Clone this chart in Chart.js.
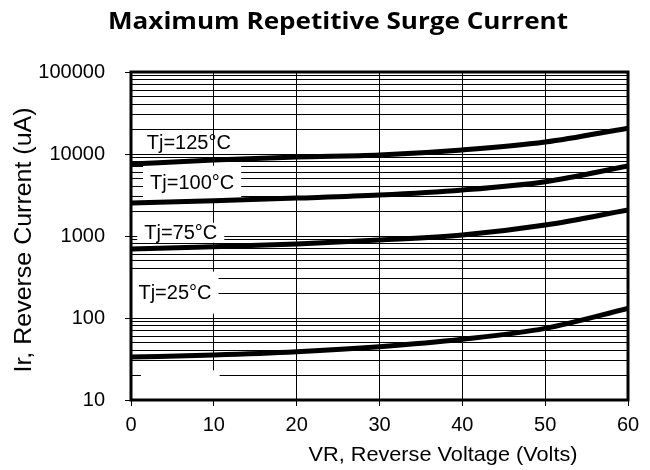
<!DOCTYPE html>
<html lang="en">
<head>
<meta charset="UTF-8">
<title>Maximum Repetitive Surge Current</title>
<script src="https://cdn.jsdelivr.net/npm/chart.js"></script>
<style>
  body { margin: 0; background: #fff; }
  #wrap { width: 650px; height: 470px; }
</style>
</head>
<body>
<div id="wrap"><canvas id="surgeChart"></canvas></div>
<script>
// VR, reverse voltage (Volts)
const voltage = [0, 10, 20, 30, 40, 50, 60];
// Ir, reverse current (uA) per junction temperature
const tj125 = [7550, 8450, 9190, 9720, 11200, 14000, 20700];
const tj100 = [2520, 2690, 2900, 3160, 3640, 4600, 7150];
const tj75 = [693, 741, 798, 893, 1028, 1360, 2075];
const tj25 = [33.4, 35.4, 38.8, 44.7, 55, 74.8, 131];

const xTicks = [0, 10, 20, 30, 40, 50, 60];
const yDecades = [10, 100, 1000, 10000, 100000];

// curve labels: text, voltage at left edge of text, current at text middle
const curveLabels = ["Tj=125°C", "Tj=100°C", "Tj=75°C", "Tj=25°C"];
const labelV = [1.9, 2.3, 1.6, 0.9];
const labelI = [14000, 4460, 1096, 204];

const series = [tj125, tj100, tj75, tj25];
const FONT = "'Liberation Sans', Arial, sans-serif";

const datasets = series.map(vals => ({
    data: voltage.map((v, i) => ({ x: v, y: vals[i] })),
    borderColor: "#000",
    borderWidth: 5,
    pointRadius: 0,
    fill: false,
    cubicInterpolationMode: "monotone"
}));

// draw text centred on (cx, cy), squeezed/stretched to width w
function fitText(ctx, text, cx, cy, font, w, angle) {
    ctx.save();
    ctx.font = font;
    ctx.textAlign = "center";
    ctx.textBaseline = "middle";
    ctx.fillStyle = "#000";
    ctx.translate(cx, cy);
    if (angle) ctx.rotate(angle);
    ctx.scale(w / ctx.measureText(text).width, 1);
    ctx.fillText(text, 0, 0);
    ctx.restore();
}

const labelPlugin = {
    id: "curveLabels",
    // white boxes behind curve labels: over the grid, under the curves
    beforeDatasetsDraw(chart) {
        const ctx = chart.ctx, xs = chart.scales.x, ys = chart.scales.y;
        const boxH = [0, 17, 10, 21];
        ctx.save();
        ctx.font = "20px " + FONT;
        ctx.textBaseline = "middle";
        curveLabels.forEach((t, i) => {
            const x = xs.getPixelForValue(labelV[i]);
            const y = ys.getPixelForValue(labelI[i]);
            const w = ctx.measureText(t).width;
            if (boxH[i]) {
                ctx.fillStyle = "#fff";
                ctx.fillRect(x - 7, y - boxH[i], w + 14, boxH[i] * 2);
            }
            ctx.fillStyle = "#000";
            ctx.fillText(t, x, y + 1);
        });
        // blank patch near the bottom left
        const bx = xs.getPixelForValue(1.2), bx2 = xs.getPixelForValue(10.7);
        const by = ys.getPixelForValue(23), by2 = ys.getPixelForValue(10);
        ctx.fillStyle = "#fff";
        ctx.fillRect(bx, by, bx2 - bx, by2 - by - 1);
        ctx.restore();
    },
    afterDatasetsDraw(chart) {
        const ctx = chart.ctx, a = chart.chartArea;
        ctx.save();
        ctx.strokeStyle = "#000";
        ctx.lineWidth = 3;
        ctx.strokeRect(a.left, a.top, a.right - a.left, a.bottom - a.top);
        ctx.restore();
    },
    afterDraw(chart) {
        const ctx = chart.ctx;
        fitText(ctx, "Maximum Repetitive Surge Current", 338, 22, "bold 24px 'Open Sans', sans-serif", 460);
        fitText(ctx, "VR, Reverse Voltage (Volts)", 443, 455, "21px " + FONT, 269);
        fitText(ctx, "Ir, Reverse Current (uA)", 25, 240, "23px " + FONT, 265, -Math.PI / 2);
    }
};

new Chart(document.getElementById("surgeChart").getContext("2d"), {
    type: "line",
    data: { datasets: datasets },
    options: {
        responsive: true,
        maintainAspectRatio: false,
        animation: false,
        layout: { padding: { top: 72, right: 22, left: 0, bottom: 0 } },
        plugins: { legend: { display: false }, tooltip: { enabled: false } },
        scales: {
            x: {
                type: "linear",
                min: 0,
                max: 60,
                afterBuildTicks: s => { s.ticks = xTicks.map(v => ({ value: v })); },
                afterFit: s => { s.height = 70; },
                grid: { color: "#000", lineWidth: 1, tickLength: 6, tickColor: "#000" },
                border: { display: false },
                ticks: { color: "#000", padding: 7, font: { family: FONT, size: 20 }, maxRotation: 0 }
            },
            y: {
                type: "logarithmic",
                min: 10,
                max: 100000,
                afterBuildTicks: s => {
                    const t = [];
                    yDecades.forEach((d, i) => {
                        if (i === yDecades.length - 1) { t.push({ value: d, major: true }); return; }
                        for (let k = 1; k < 10; k++) t.push({ value: d * k, major: k === 1 });
                    });
                    s.ticks = t;
                },
                afterFit: s => { s.width = 131; },
                grid: {
                    color: "#000",
                    lineWidth: 1,
                    tickLength: 6,
                    tickColor: c => (c.tick && yDecades.includes(c.tick.value)) ? "#000" : "rgba(0,0,0,0)"
                },
                border: { display: false },
                ticks: {
                    color: "#000",
                    padding: 20,
                    autoSkip: false,
                    font: { family: FONT, size: 20 },
                    callback: v => yDecades.includes(v) ? String(v) : ""
                }
            }
        }
    },
    plugins: [labelPlugin]
});
</script>
</body>
</html>
